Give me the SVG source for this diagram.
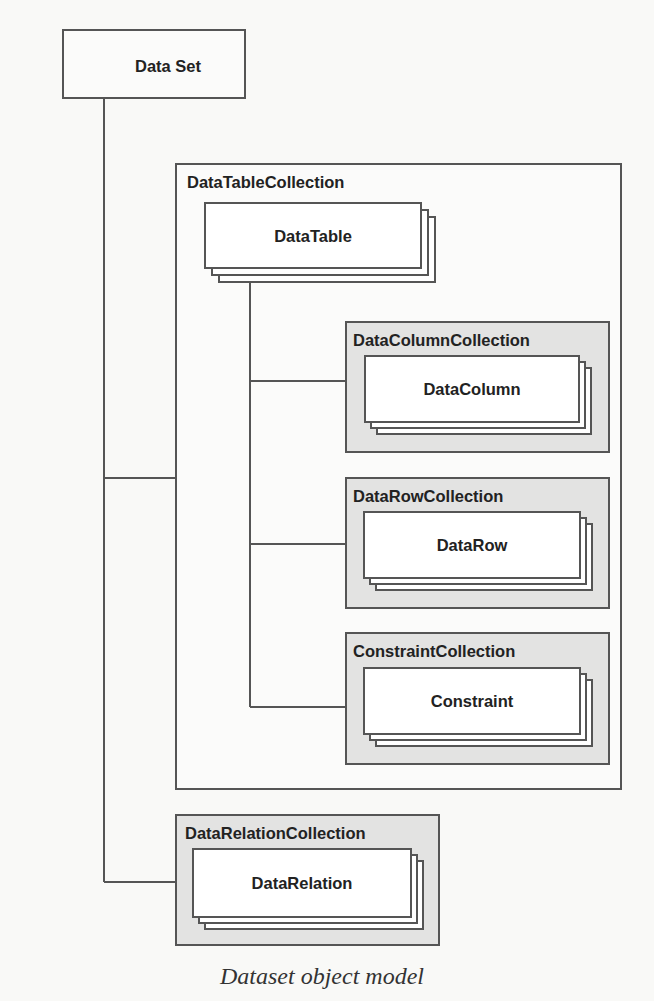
<svg xmlns="http://www.w3.org/2000/svg" width="654" height="1001" viewBox="0 0 654 1001">
<style>
.bg{fill:#f9f9f7}
.box{fill:#fbfbfa;stroke:#555;stroke-width:2}
.coll{fill:#e3e3e2;stroke:#555;stroke-width:2}
.card{fill:#ffffff;stroke:#555;stroke-width:2}
.ln{stroke:#555;stroke-width:2;fill:none}
.lbl{font-family:"Liberation Sans",Arial,sans-serif;font-weight:bold;font-size:16.5px;fill:#222}
.ctr{text-anchor:middle}
.cap{font-family:"Liberation Serif","Times New Roman",serif;font-style:italic;font-size:24px;fill:#333;text-anchor:middle}
</style>
<rect class="bg" x="0" y="0" width="654" height="1001"/>
<g id="dataset">
<rect class="box" x="63" y="30" width="182" height="68"/>
<text class="lbl ctr" x="168" y="72">Data Set</text>
</g>
<g id="datatablecollection">
<rect class="box" x="176" y="164" width="445" height="625"/>
<text class="lbl" x="187" y="188">DataTableCollection</text>
</g>
<g id="datatable">
<rect class="card" x="219" y="217" width="216" height="65"/>
<rect class="card" x="212" y="210" width="216" height="65"/>
<rect class="card" x="205" y="203" width="216" height="65"/>
<text class="lbl ctr" x="313" y="242">DataTable</text>
</g>
<g id="datacolumncollection">
<rect class="coll" x="346" y="322" width="263" height="130"/>
<text class="lbl" x="353" y="346">DataColumnCollection</text>
<rect class="card" x="377" y="368" width="214" height="66"/>
<rect class="card" x="371" y="362" width="214" height="66"/>
<rect class="card" x="365" y="356" width="214" height="66"/>
<text class="lbl ctr" x="472" y="395">DataColumn</text>
</g>
<g id="datarowcollection">
<rect class="coll" x="346" y="478" width="263" height="130"/>
<text class="lbl" x="353" y="502">DataRowCollection</text>
<rect class="card" x="376" y="524" width="216" height="66"/>
<rect class="card" x="370" y="518" width="216" height="66"/>
<rect class="card" x="364" y="512" width="216" height="66"/>
<text class="lbl ctr" x="472" y="551">DataRow</text>
</g>
<g id="constraintcollection">
<rect class="coll" x="346" y="633" width="263" height="131"/>
<text class="lbl" x="353" y="657">ConstraintCollection</text>
<rect class="card" x="376" y="680" width="216" height="66"/>
<rect class="card" x="370" y="674" width="216" height="66"/>
<rect class="card" x="364" y="668" width="216" height="66"/>
<text class="lbl ctr" x="472" y="707">Constraint</text>
</g>
<g id="datarelationcollection">
<rect class="coll" x="176" y="815" width="263" height="130"/>
<text class="lbl" x="185" y="839">DataRelationCollection</text>
<rect class="card" x="205" y="861" width="218" height="68"/>
<rect class="card" x="199" y="855" width="218" height="68"/>
<rect class="card" x="193" y="849" width="218" height="68"/>
<text class="lbl ctr" x="302" y="889">DataRelation</text>
</g>
<g id="connectors">
<path class="ln" d="M104 99V882M104 478H176M104 882H176M250 283V707M250 381H345M250 544H345M250 707H345"/>
</g>
<g id="caption">
<text class="cap" x="322" y="984">Dataset object model</text>
</g>
</svg>
